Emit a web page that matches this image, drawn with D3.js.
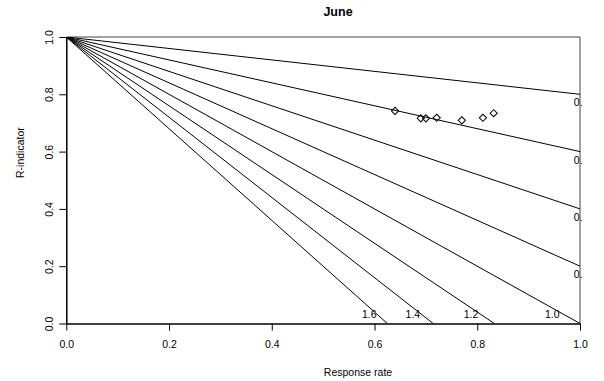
<!DOCTYPE html>
<html>
<head>
<meta charset="utf-8">
<script src="https://cdn.jsdelivr.net/npm/d3@7"></script>
<style>
  html, body { margin: 0; padding: 0; background: #fff; }
  svg text { font-family: "Liberation Sans", Arial, sans-serif; fill: #000; }
</style>
</head>
<body>
<svg id="chart" width="604" height="381"></svg>
<script>
// ---- data ----
const xTicks = [0.0, 0.2, 0.4, 0.6, 0.8, 1.0];
const yTicks = [0.0, 0.2, 0.4, 0.6, 0.8, 1.0];
const slopes = [0.2, 0.4, 0.6, 0.8, 1.0, 1.2, 1.4, 1.6];
const rightLabels = ["0.2", "0.4", "0.6", "0.8"];
const bottomLabels = ["1.0", "1.2", "1.4", "1.6"];
const responseRate = [0.640, 0.690, 0.700, 0.721, 0.770, 0.811, 0.832];
const rIndicator   = [0.742, 0.716, 0.716, 0.718, 0.709, 0.718, 0.734];

const svg = d3.select("#chart");
const x = d3.scaleLinear().domain([0, 1]).range([66.3, 580]);
const y = d3.scaleLinear().domain([0, 1]).range([323.5, 37]);

// clips
const defs = svg.append("defs");
defs.append("clipPath").attr("id", "clip")
  .append("rect").attr("x", x(0)).attr("y", y(1)).attr("width", x(1) - x(0) + 1).attr("height", y(0) - y(1));
defs.append("clipPath").attr("id", "clipLab")
  .append("rect").attr("x", x(0)).attr("y", y(1)).attr("width", x(1) - x(0) + 2.5).attr("height", y(0) - y(1));

// box (top/right)
svg.append("path")
  .attr("d", `M${x(0)},${y(1)}H${x(1)}V${y(0)}`)
  .attr("fill", "none").attr("stroke", "#444").attr("stroke-width", 1);

const plot = svg.append("g").attr("clip-path", "url(#clip)");
const labs = svg.append("g").attr("clip-path", "url(#clipLab)");

// lines R = 1 - k * rr
const line = d3.line().x(d => x(d[0])).y(d => y(d[1]));
slopes.forEach(k => {
  const xe = Math.min(1, 1 / k);
  plot.append("path")
    .attr("d", line([[0, 1], [xe, 1 - k * xe]]))
    .attr("fill", "none").attr("stroke", "#000").attr("stroke-width", 1);
});

// right labels (clipped)
rightLabels.forEach((lab, i) => {
  const k = slopes[i];
  labs.append("text")
    .attr("x", x(0.988)).attr("y", y(1 - k) + 12)
    .attr("font-size", 10.5).text(lab);
});
// bottom labels
bottomLabels.forEach((lab, i) => {
  const k = slopes[4 + i];
  plot.append("text")
    .attr("x", x(0.95 / k) - 2).attr("y", y(0) - 6)
    .attr("text-anchor", "middle").attr("font-size", 10.5).text(lab);
});

// points (diamonds)
const diamond = d3.symbol().type(d3.symbolSquare).size(26);
svg.append("g").selectAll("path").data(responseRate.map((r, i) => [r, rIndicator[i]]))
  .join("path")
  .attr("d", diamond)
  .attr("transform", d => `translate(${x(d[0])},${y(d[1])}) rotate(45)`)
  .attr("fill", "none").attr("stroke", "#000").attr("stroke-width", 1);

// axes
const xAxis = svg.append("g").attr("transform", `translate(0,${y(0)})`)
  .call(d3.axisBottom(x).tickValues(xTicks).tickFormat(d3.format(".1f")).tickSize(7).tickSizeOuter(0).tickPadding(10));
const yAxis = svg.append("g").attr("transform", `translate(${x(0)},0)`)
  .call(d3.axisLeft(y).tickValues(yTicks).tickFormat(d3.format(".1f")).tickSize(7).tickSizeOuter(0));
[xAxis, yAxis].forEach(a => {
  a.select(".domain").attr("stroke", "#000").attr("stroke-width", 1.5);
  a.selectAll(".tick line").attr("stroke", "#000").attr("stroke-width", 1);
  a.selectAll("text").attr("font-size", 10.5).attr("font-family", "Liberation Sans, Arial, sans-serif");
});
yAxis.selectAll(".tick text")
  .attr("x", null).attr("dy", null)
  .attr("text-anchor", "middle")
  .attr("transform", "translate(-17,0) rotate(-90)")
  .attr("y", 0).attr("dy", "0.35em");

// title and labels
svg.append("text").attr("x", 338).attr("y", 16).attr("text-anchor", "middle")
  .attr("font-size", 12.5).attr("font-weight", "bold").text("June");
svg.append("text").attr("x", 358).attr("y", 376).attr("text-anchor", "middle")
  .attr("font-size", 10.5).text("Response rate");
svg.append("text").attr("transform", "translate(24,178) rotate(-90)")
  .attr("text-anchor", "start").attr("font-size", 10.5).text("R-indicator");
</script>
</body>
</html>
